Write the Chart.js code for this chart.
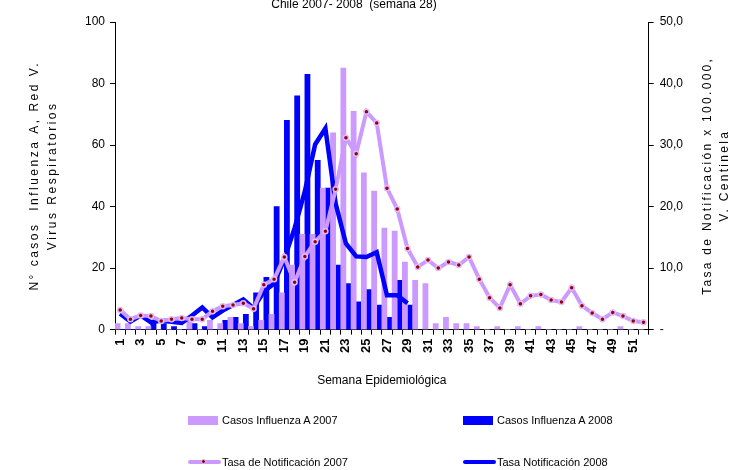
<!DOCTYPE html>
<html>
<head>
<meta charset="utf-8">
<script src="https://cdn.jsdelivr.net/npm/chart.js@4.4.0/dist/chart.umd.min.js"></script>
<style>
  body { margin: 0; background: #fff; }
  #wrap { position: relative; width: 731px; height: 470px; overflow: hidden; font-family: "Liberation Sans", Arial, sans-serif; }
  #grafico { position: absolute; left: 0; top: 0; }
  #leyenda { position: absolute; left: 0; top: 0; width: 731px; height: 470px; pointer-events: none; }
  .item { position: absolute; height: 14px; display: flex; align-items: center; font-size: 11px; color: #000; white-space: nowrap; }
  .marca { position: relative; width: 33px; height: 14px; margin-right: 1px; }
</style>
</head>
<body>
<div id="wrap">
  <canvas id="grafico" width="731" height="470"></canvas>
  <div id="leyenda"></div>
</div>
<script>
// semanas epidemiologicas
const semanas = ["1","2","3","4","5","6","7","8","9","10","11","12","13","14","15","16","17","18","19","20",
  "21","22","23","24","25","26","27","28","29","30","31","32","33","34","35","36","37","38","39","40",
  "41","42","43","44","45","46","47","48","49","50","51","52"];

// casos influenza A (eje izquierdo)
const casos2007 = [2,2,1,1,0,0,0,3,0,3, 2,4,2,1,3,5,12,21,31,31, 46,64,85,71,51,45,33,32,22,16,
  15,2,4,2,2,1,0,1,0,1, 0,1,0,0,0,1,0,0,0,1, 0,0];
const casos2008 = [0,0,0,3,2,1,0,2,1,0, 3,4,5,12,17,40,68,76,83,55, 46,21,15,9,13,8,4,16,8];

// tasa de notificacion x 100.000 (eje derecho)
const tasa2007 = [3.2,1.7,2.3,2.2,1.4,1.7,1.9,1.7,1.7,3.0, 3.8,4.0,4.3,3.4,7.3,8.2,11.8,7.7,11.9,14.3,
  16.0,22.8,31.2,28.6,35.4,33.6,23.0,19.6,13.2,10.2, 11.3,10.0,11.0,10.5,11.8,8.2,5.2,3.5,7.3,4.2,
  5.5,5.7,4.8,4.5,6.8,3.9,2.7,1.7,2.8,2.2, 1.4,1.2];
const tasa2008 = [2.6,1.3,2.3,1.2,1.5,1.3,1.1,2.3,3.6,2.0, 3.1,4.0,4.9,3.5,6.2,7.5,11.5,16.5,22.5,30.1,
  32.7,20.5,14.0,11.9,11.8,12.6,5.6,5.6,4.3];

const ticksIzq = [0, 20, 40, 60, 80, 100];
const ticksDer = [0, 10, 20, 30, 40, 50];

const titulo = "Chile 2007- 2008  (semana 28)";
const tituloY = ["N° casos  Influenza A, Red V.", "Virus Respiratorios"];
const tituloY2 = ["Tasa de Notificación x 100.000,", "V. Centinela"];
const tituloX = "Semana Epidemiológica";

Chart.defaults.font.family = '"Liberation Sans", Arial, sans-serif';
Chart.defaults.color = "#000";

// titulo superior y titulos de los ejes verticales (texto espaciado, de abajo hacia arriba)
const titulos = {
  id: "titulos",
  afterDraw(chart) {
    const ctx = chart.ctx;
    const sy = chart.scales.y;
    const sy2 = chart.scales.y2;
    const yc = (sy.top + sy.bottom) / 2;
    ctx.save();
    ctx.fillStyle = "#000";
    ctx.font = '12px "Liberation Sans", Arial, sans-serif';
    ctx.textAlign = "center";
    ctx.textBaseline = "alphabetic";
    ctx.fillText(titulo, 354, 8);

    ctx.textBaseline = "middle";
    ctx.letterSpacing = "2.5px";
    const vertical = (texto, x) => {
      ctx.save();
      ctx.translate(x, yc);
      ctx.rotate(-Math.PI / 2);
      ctx.fillText(texto, 0, 0);
      ctx.restore();
    };
    tituloY.forEach((t, k) => vertical(t, sy.left - 45 + k * 18));
    ctx.letterSpacing = "2.3px";
    tituloY2.forEach((t, k) => vertical(t, sy2.right + 19 + k * 17));
    ctx.restore();
  }
};

// leyenda en html, 2 columnas
const colX = [188, 463];
const filaY = [413, 455];
const leyendaHtml = {
  id: "leyendaHtml",
  afterUpdate(chart) {
    const caja = document.getElementById("leyenda");
    caja.innerHTML = "";
    chart.data.datasets.forEach((ds, i) => {
      const item = document.createElement("div");
      item.className = "item";
      item.style.left = colX[i % 2] + "px";
      item.style.top = filaY[Math.floor(i / 2)] + "px";
      const marca = document.createElement("span");
      marca.className = "marca";
      if (ds.type === "line") {
        const linea = document.createElement("span");
        linea.style.cssText = "position:absolute;left:0;top:" + (7 - ds.borderWidth / 2) + "px;width:33px;height:" +
          ds.borderWidth + "px;background:" + ds.borderColor + ";border-radius:2px;";
        marca.appendChild(linea);
        if (ds.pointRadius > 0) {
          const punto = document.createElement("span");
          punto.style.cssText = "position:absolute;left:13px;top:4px;width:3px;height:3px;border-radius:50%;" +
            "background:" + ds.pointBackgroundColor + ";border:1.5px solid " + ds.pointBorderColor + ";";
          marca.appendChild(punto);
        }
      } else {
        const rect = document.createElement("span");
        rect.style.cssText = "position:absolute;left:0;top:3px;width:30px;height:9px;background:" + ds.backgroundColor + ";";
        marca.appendChild(rect);
      }
      const texto = document.createElement("span");
      texto.textContent = ds.label;
      item.appendChild(marca);
      item.appendChild(texto);
      caja.appendChild(item);
    });
  }
};

const ctx = document.getElementById("grafico").getContext("2d");
new Chart(ctx, {
  type: "bar",
  data: {
    labels: semanas,
    datasets: [
      {
        label: "Casos Influenza A 2007",
        data: casos2007,
        backgroundColor: "#CC99FF",
        borderWidth: 0,
        yAxisID: "y",
        order: 2
      },
      {
        label: "Casos Influenza A 2008",
        data: casos2008,
        backgroundColor: "#0000FF",
        borderWidth: 0,
        yAxisID: "y",
        order: 3
      },
      {
        type: "line",
        label: "Tasa de Notificación 2007",
        data: tasa2007,
        borderColor: "#CC99FF",
        backgroundColor: "#CC99FF",
        borderWidth: 4,
        tension: 0,
        pointRadius: 2.5,
        pointBorderWidth: 1.5,
        pointBackgroundColor: "#990000",
        pointBorderColor: "#DDBBFF",
        yAxisID: "y2",
        order: 0
      },
      {
        type: "line",
        label: "Tasa Notificación 2008",
        data: tasa2008,
        borderColor: "#0000FF",
        backgroundColor: "#0000FF",
        borderWidth: 4.5,
        tension: 0,
        pointRadius: 0,
        yAxisID: "y2",
        order: 1
      }
    ]
  },
  options: {
    responsive: false,
    animation: false,
    categoryPercentage: 1,
    barPercentage: 1,
    layout: { padding: { left: 80, right: 42, top: 22, bottom: 82 } },
    plugins: {
      legend: { display: false },
      tooltip: { enabled: false },
      title: { display: false }
    },
    scales: {
      x: {
        grid: { drawOnChartArea: false, drawTicks: true, tickLength: 5, color: "#000", offset: true },
        border: { color: "#000", width: 1 },
        ticks: {
          autoSkip: false,
          minRotation: 90,
          maxRotation: 90,
          padding: 4,
          color: "#000",
          font: { size: 13, weight: "bold" },
          callback: function (v, i) { return i % 2 === 0 ? this.getLabelForValue(v) : ""; }
        },
        title: { display: true, text: tituloX, color: "#000", font: { size: 12 }, padding: { top: 16.5, bottom: 0 } }
      },
      y: {
        position: "left",
        min: 0,
        max: 100,
        afterBuildTicks: (s) => { s.ticks = ticksIzq.map(v => ({ value: v })); },
        grid: { drawOnChartArea: false, tickLength: 5, color: "#000" },
        border: { color: "#000", width: 1 },
        ticks: { padding: 5, color: "#000", font: { size: 12 } }
      },
      y2: {
        position: "right",
        min: 0,
        max: 50,
        afterBuildTicks: (s) => { s.ticks = ticksDer.map(v => ({ value: v })); },
        grid: { drawOnChartArea: false, tickLength: 5, color: "#000" },
        border: { color: "#000", width: 1 },
        ticks: {
          padding: 6,
          color: "#000",
          font: { size: 12 },
          callback: (v) => v === 0 ? "-" : v.toFixed(1).replace(".", ",")
        }
      }
    }
  },
  plugins: [titulos, leyendaHtml]
});
</script>
</body>
</html>
